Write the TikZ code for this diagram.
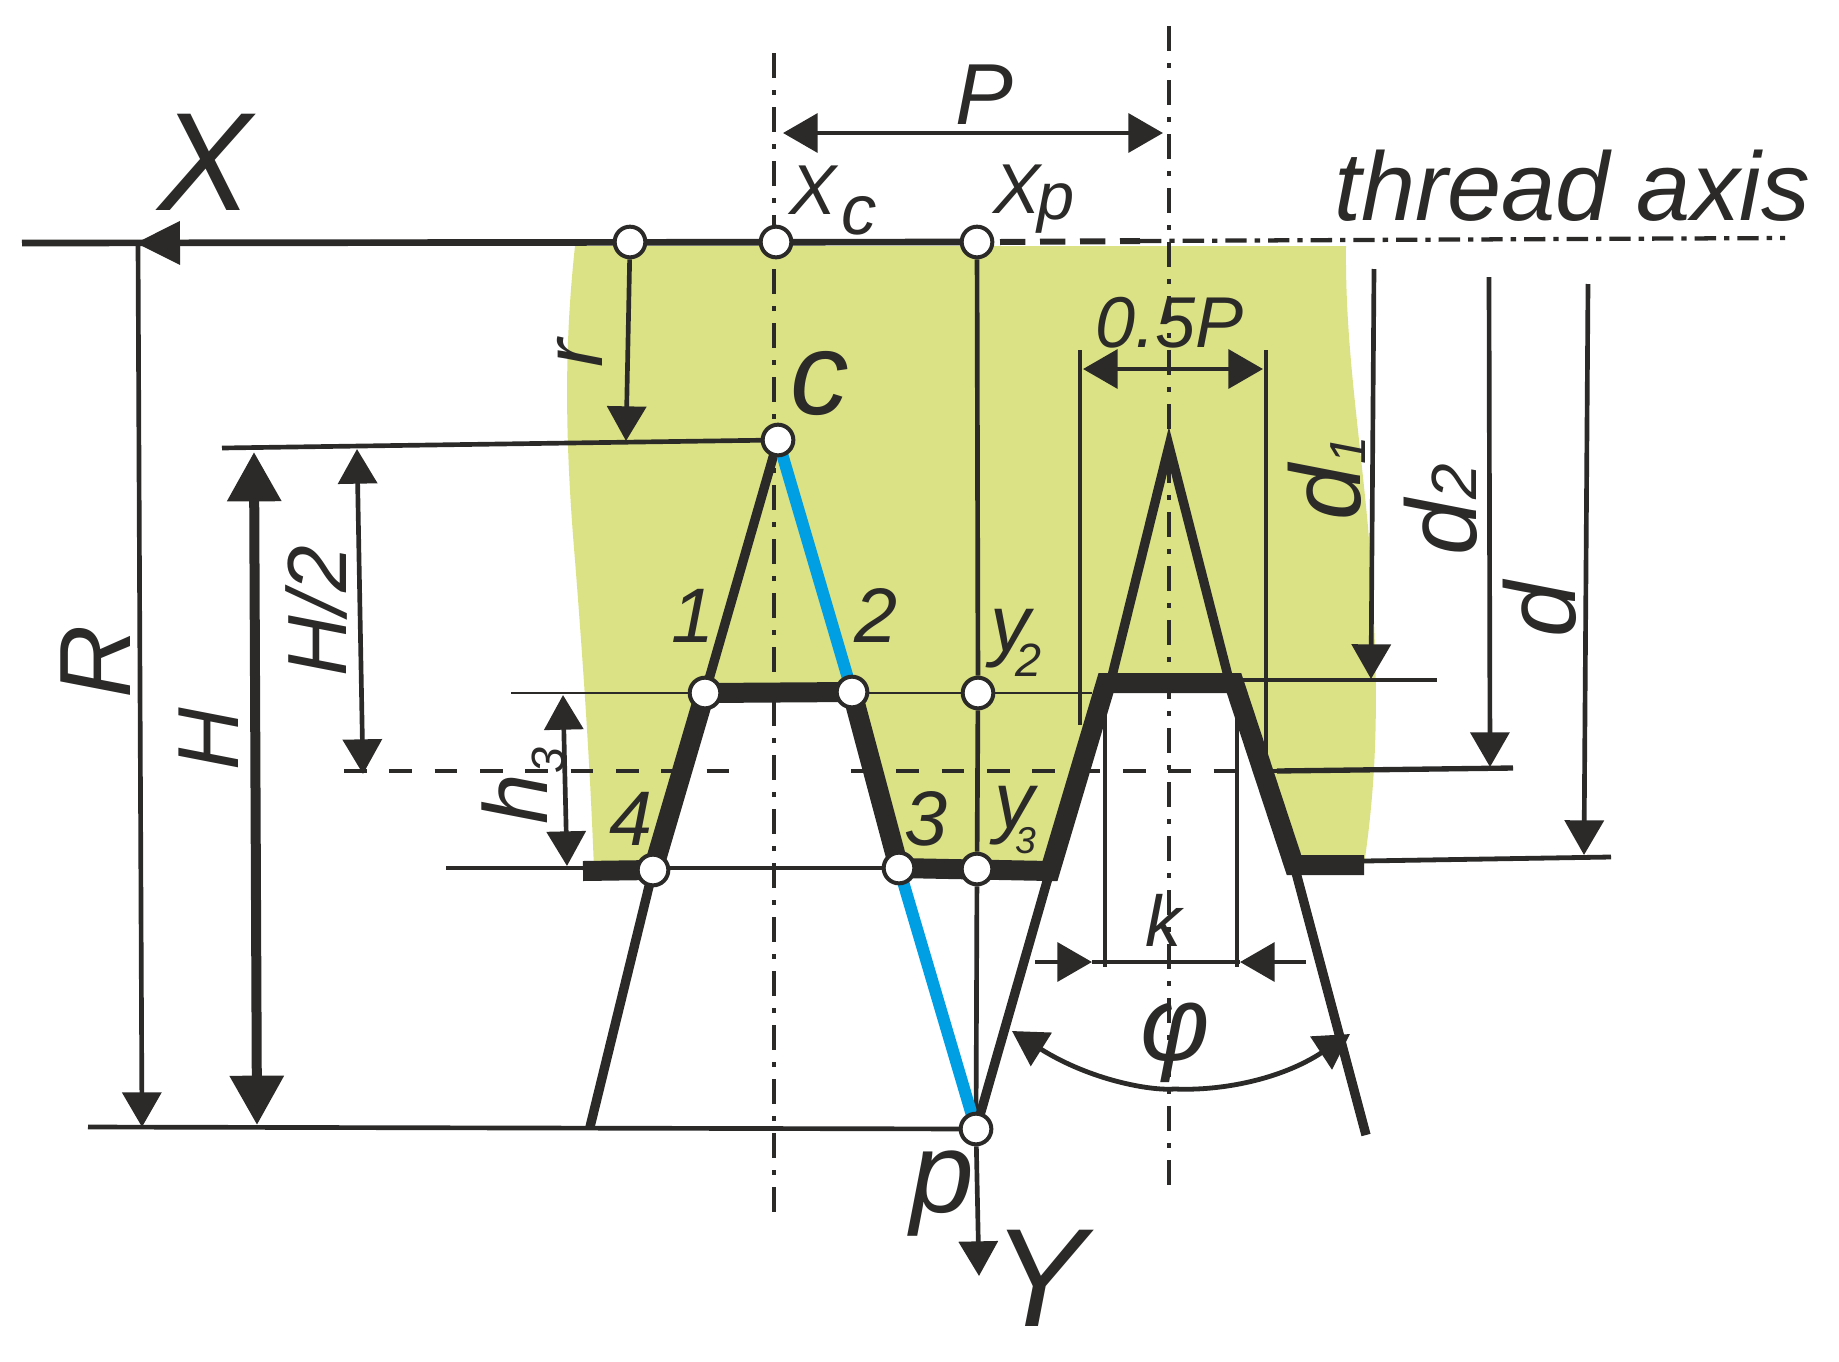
\documentclass[tikz,border=0pt]{standalone}
\usepackage{fontspec}
\setmainfont{Liberation Sans}
\usetikzlibrary{arrows.meta}
\definecolor{ink}{HTML}{2B2A29}
\definecolor{leaf}{HTML}{DBE285}
\definecolor{flank}{HTML}{009FE3}
\newcommand{\fsz}[1]{\fontsize{#1pt}{#1pt}\selectfont}
\pgfdeclarelayer{under}
\pgfsetlayers{under,main}
\tikzset{
  lbl/.style={inner sep=0pt,outer sep=0pt,text=ink,font=\itshape,anchor=base west},
  uplbl/.style={lbl,rotate=90},
  pnt/.style={circle,draw=ink,fill=white,line width=3pt,minimum size=23pt,inner sep=0pt},
  fine/.style={draw=ink,line width=2pt},
  med/.style={draw=ink,line width=3.5pt},
  slim/.style={draw=ink,line width=7pt},
  thick line/.style={draw=ink,line width=15pt,line join=miter},
  blueflank/.style={draw=flank,line width=9pt},
  axisdash/.style={draw=ink,line width=2.8pt,dash pattern=on 19pt off 9pt on 3.5pt off 9pt},
  crossdash/.style={draw=ink,line width=2.8pt,dash pattern=on 17pt off 17pt},
  threadaxis/.style={draw=ink,line width=3.2pt,dash pattern=on 16pt off 6pt on 4pt off 6pt},
  tipone/.style={-{Triangle[length=26pt,width=29pt]}},
  tipx/.style={-{Triangle[length=33pt,width=32pt]}},
  tiptwo/.style={{Triangle[length=26pt,width=29pt]}-{Triangle[length=26pt,width=29pt]}},
  tipbig/.style={{Triangle[length=37pt,width=39pt]}-{Triangle[length=37pt,width=39pt]}},
}
\begin{document}
\begin{tikzpicture}[x=0.75pt,y=-0.75pt]
\useasboundingbox (0,0) rectangle (1839,1361);

% named points
\node[pnt] (nR) at (630,242) {};
\node[pnt] (nC) at (776,242) {};
\node[pnt] (nP) at (977,242) {};
\node[pnt] (c) at (778,440) {};
\node[pnt] (n1) at (705,693) {};
\node[pnt] (n2) at (852,692) {};
\node[pnt] (ny2) at (978,693) {};
\node[pnt] (n4) at (653,870) {};
\node[pnt] (n3) at (899,868) {};
\node[pnt] (ny3) at (977,869) {};
\node[pnt] (p) at (976,1129) {};

% free ends
\coordinate (axL) at (22,243);
\coordinate (axTip) at (136,243);
\coordinate (dashA) at (1000,242);
\coordinate (dashB) at (1140,241);
\coordinate (axR) at (1785,238);
\coordinate (cvT) at (774,53);
\coordinate (cvB) at (774,1217);
\coordinate (pvT) at (1169,26);
\coordinate (pvB) at (1169,1187);
\coordinate (Rtop) at (138,243);
\coordinate (Rtip) at (142,1127);
\coordinate (baseL) at (88,1127);
\coordinate (cL) at (222,448);
\coordinate (rtip) at (626,441);
\coordinate (Htop) at (254,452);
\coordinate (Hbot) at (257,1125);
\coordinate (Hhtop) at (357,449);
\coordinate (Hhbot) at (363,774);
\coordinate (y2L) at (511,693);
\coordinate (y2R) at (1092,693);
\coordinate (y3L) at (446,868);
\coordinate (h3top) at (563,695);
\coordinate (h3bot) at (567,866);
\coordinate (crossA) at (344,771);
\coordinate (crossB) at (730,771);
\coordinate (crossC) at (851,771);
\coordinate (crossD) at (1277,771);
\coordinate (crossE) at (1513,768);
\coordinate (Ptip1) at (783,133);
\coordinate (Ptip2) at (1163,133);
\coordinate (halfL) at (1083,369);
\coordinate (halfR) at (1263,369);
\coordinate (vL1) at (1080,350);
\coordinate (vL2) at (1080,725);
\coordinate (vR1) at (1266,350);
\coordinate (vR2) at (1266,770);
\coordinate (d1top) at (1374,269);
\coordinate (d1tip) at (1371,679);
\coordinate (d1L) at (1234,680);
\coordinate (d1R) at (1437,680);
\coordinate (d2top) at (1489,277);
\coordinate (d2tip) at (1490,767);
\coordinate (dtop) at (1588,284);
\coordinate (dtip) at (1584,855);
\coordinate (dL) at (1364,861);
\coordinate (dR) at (1611,857);
\coordinate (kL1) at (1105,695);
\coordinate (kL2) at (1105,967);
\coordinate (kR1) at (1237,695);
\coordinate (kR2) at (1237,967);
\coordinate (kAl) at (1035,962);
\coordinate (kAtip) at (1092,962);
\coordinate (kBl) at (1306,962);
\coordinate (kBtip) at (1240,962);
\coordinate (phiL) at (1012,1031);
\coordinate (phiR) at (1350,1034);
\coordinate (Ytip) at (979,1276);
\coordinate (leftTop) at (1106,683);
\coordinate (rightTop) at (1234,683);
\coordinate (apex) at (1169,446);
\coordinate (apexL) at (1112,676);
\coordinate (apexR) at (1228,676);
\coordinate (rightFoot) at (1364,865);
\coordinate (rightHeel) at (1294,865);
\coordinate (leftHeel) at (1050,871);
\coordinate (footL) at (583,871);
\coordinate (loL) at (590,1127);
\coordinate (loRb) at (1366,1135);

\begin{pgfonlayer}{under}
% green body
\fill[leaf] (575,246) .. controls (566,330) and (563,420) .. (575,560)
  .. controls (582,650) and (590,760) .. (594,870)
  -- (653,870) -- (705,693) -- (852,692) -- (899,868) -- (1050,871)
  -- (1106,683) -- (1234,683) -- (1294,865) -- (1364,865)
  .. controls (1378,770) and (1380,680) .. (1368,527)
  .. controls (1358,420) and (1345,340) .. (1346,246) -- cycle;
% dash-dot axes
\path[axisdash] (cvT) -- (cvB);
\path[axisdash] (pvT) -- (pvB);
% thin construction lines
\path[fine] (y2L) -- (y2R);
\path[med] (y3L) -- (n3.center);
\path[med] (vL1) -- (vL2);
\path[med] (vR1) -- (vR2);
\path[med] (kL1) -- (kL2);
\path[med] (kR1) -- (kR2);
\path[crossdash] (crossA) -- (crossB);
\path[crossdash] (crossC) -- (crossD);
\path[draw=ink,line width=4pt] (crossD) -- (crossE);
% X axis
\path[draw=ink,line width=5pt] (axL) -- (nP.center);
\path[draw=ink,line width=4.5pt,dash pattern=on 19pt off 11pt] (dashA) -- (dashB);
\path[threadaxis] (dashB) -- (axR);
\path[med,line width=3.8pt,tipx] (nR) -- (axTip);
% verticals
\path[med,tipone] (Rtop) -- (Rtip);
\path[med] (baseL) -- (p.center);
\path[med] (cL) -- (c.center);
\path[med,tipone] (nR) -- (rtip);
\path[draw=ink,line width=7.5pt,tipbig] (Htop) -- (Hbot);
\path[med,tiptwo] (Hhtop) -- (Hhbot);
\path[med,tiptwo] (h3top) -- (h3bot);
\path[med] (nP) -- (ny2);
\path[med] (ny2) -- (ny3);
\path[med] (ny3) -- (p);
\path[med,tipone] (p) -- (Ytip);
% dimension arrows
\path[med,tiptwo] (Ptip1) -- (Ptip2);
\path[med,tiptwo] (halfL) -- (halfR);
\path[med,tipone] (d1top) -- (d1tip);
\path[med,tipone] (d2top) -- (d2tip);
\path[med,tipone] (dtop) -- (dtip);
\path[draw=ink,line width=3.6pt] (d1L) -- (d1R);
\path[draw=ink,line width=3.6pt] (dL) -- (dR);
\path[med,tipone] (kAl) -- (kAtip);
\path[med,tipone] (kBl) -- (kBtip);
\path[med] (kAtip) -- (kBtip);
\path[draw=ink,line width=3.6pt,tiptwo] (phiL) .. controls (1090,1080) and (1150,1091) .. (1175,1089)
  .. controls (1220,1091) and (1280,1080) .. (phiR);
% thread profile
\path[slim] (c.center) -- (n1.center);
\path[blueflank] (c.center) -- (n2.center);
\path[blueflank] (n3.center) -- (p.center);
\path[thick line] (n1.center) -- (n2.center);
\path[thick line] (n2.center) -- (n3.center);
\path[thick line] (n1.center) -- (n4.center);
\path[thick line] (footL) -- (n4.center);
\path[slim] (n4.center) -- (loL);
\path[slim] (leftHeel) -- (p.center);
\path[slim,line join=miter] (apexL) -- (apex) -- (apexR);
\path[slim] (rightHeel) -- (loRb);
\path[thick line] (n3.center) -- (leftHeel) -- (leftTop) -- (rightTop) -- (rightHeel) -- (rightFoot);
\end{pgfonlayer}

% labels
\node[lbl] (tX) at (158,210) {\fsz{105}X};
\node[lbl] (tP) at (955,124) {\fsz{65}P};
\node[lbl] (tXc) at (789,214) {\fsz{53}X\kern 4pt\raisebox{-15pt}{c}};
\node[lbl] (tXp) at (993,213) {\fsz{53}X\kern-2pt\raisebox{-5pt}{\fsz{50}p}};
\node[lbl] (tTh) at (1334,220) {\fsz{73}thread axis};
\node[lbl] (tHalf) at (1095,347) {\fsz{54}0.5P};
\node[uplbl] (td1) at (1360,520) {\fsz{75}d\raisebox{-4pt}{\fsz{38}1}};
\node[uplbl] (td2) at (1476,555) {\fsz{75}d\raisebox{0pt}{\fsz{48}2}};
\node[uplbl] (td) at (1575,637) {\fsz{75}d};
\node[uplbl] (tR) at (130,698) {\fsz{76}R};
\node[uplbl] (tH) at (238,770) {\fsz{65}H};
\node[uplbl] (tHh) at (346,676) {\fsz{63}H/2};
\node[uplbl] (tr) at (602,367) {\fsz{63}r};
\node[lbl] (tc) at (790,414) {\fsz{88}c};
\node[lbl] (t1) at (671,642) {\fsz{58}1};
\node[lbl] (t2) at (854,642) {\fsz{58}2};
\node[lbl] (t3) at (904,845) {\fsz{58}3};
\node[lbl] (t4) at (609,845) {\fsz{58}4};
\node[lbl] (ty2) at (990,651) {\fsz{60}y\kern-11pt\raisebox{-19pt}{\fsz{35}2}};
\node[lbl] (ty3) at (994,828) {\fsz{60}y\kern-14pt\raisebox{-19pt}{\fsz{28}3}};
\node[uplbl] (th3) at (547,824) {\fsz{68}h\raisebox{-13pt}{\fsz{35}3}};
\node[lbl] (tk) at (1145,946) {\fsz{54}k};
\node[lbl] (tphi) at (1140,1060) {\fsz{80}φ};
\node[lbl] (tp) at (910,1212) {\fsz{86}p};
\node[lbl] (tY) at (992,1326) {\fsz{105}Y};
\end{tikzpicture}
\end{document}
